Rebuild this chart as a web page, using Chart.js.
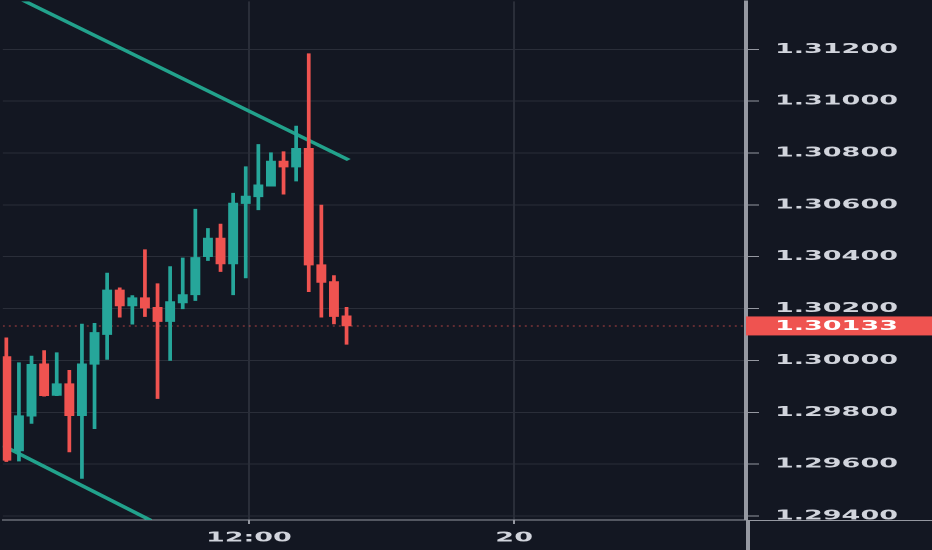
<!DOCTYPE html>
<html>
<head>
<meta charset="utf-8">
<script src="https://cdn.jsdelivr.net/npm/chart.js@4.4.1/dist/chart.umd.min.js"></script>
<style>
  html, body { margin: 0; padding: 0; background: #131722; overflow: hidden; }
  /* the reference is a horizontally stretched screenshot, so draw at half width and stretch */
  #wrap { width: 466px; height: 550px; transform: scaleX(2); transform-origin: 0 0; }
</style>
</head>
<body>
<div id="wrap"><canvas id="chart"></canvas></div>
<script>
// candles, one per bar index
const opens  = [1.30015, 1.29651, 1.29785, 1.29987, 1.29865, 1.29910, 1.29787, 1.29985, 1.30100, 1.30272,
                1.30210, 1.30242, 1.30205, 1.30150, 1.30222, 1.30253, 1.30400, 1.30472, 1.30372, 1.30605,
                1.30631, 1.30672, 1.30769, 1.30746, 1.30818, 1.30369, 1.30304, 1.30172]
const highs  = [1.30087, 1.29991, 1.30017, 1.30038, 1.30030, 1.29962, 1.30140, 1.30143, 1.30337, 1.30280,
                1.30250, 1.30427, 1.30296, 1.30362, 1.30395, 1.30583, 1.30509, 1.30526, 1.30645, 1.30747,
                1.30833, 1.30801, 1.30805, 1.30904, 1.31183, 1.30599, 1.30327, 1.30205]
const lows   = [1.29610, 1.29612, 1.29757, 1.29862, 1.29864, 1.29647, 1.29545, 1.29737, 1.30004, 1.30167,
                1.30140, 1.30169, 1.29853, 1.30000, 1.30199, 1.30231, 1.30385, 1.30343, 1.30253, 1.30318,
                1.30581, 1.30672, 1.30641, 1.30692, 1.30265, 1.30167, 1.30141, 1.30062]
const closes = [1.29615, 1.29787, 1.29985, 1.29864, 1.29910, 1.29787, 1.29987, 1.30108, 1.30272, 1.30210,
                1.30242, 1.30202, 1.30150, 1.30227, 1.30254, 1.30397, 1.30472, 1.30372, 1.30607, 1.30634,
                1.30677, 1.30769, 1.30746, 1.30818, 1.30368, 1.30301, 1.30169, 1.30133]

// trend channel, [bar index, price]
const upperTrend = [[-0.28, 1.31427], [27.18, 1.30773]]
const lowerTrend = [[-0.28, 1.29672], [11.42, 1.29384]]

const lastPrice = 1.30133

const yTicks = [1.294, 1.296, 1.298, 1.300, 1.302, 1.304, 1.306, 1.308, 1.310, 1.312]
const xTickPos = [19.25, 40.3]
const xTickLabels = ['12:00', '20']

const UP = '#26a69a'
const DOWN = '#ef5350'
const GRID = '#2a2e39'
const AXIS = '#9598a1'
const TEXT = '#d1d4dc'
const FONT = { family: '"DejaVu Sans", sans-serif', size: 13.5, weight: 'bold' }

const idx = opens.map((o, i) => i)
const colors = idx.map(i => closes[i] >= opens[i] ? UP : DOWN)

const extras = {
  id: 'extras',
  afterDraw(chart) {
    const { ctx, chartArea: a, scales: { y } } = chart
    ctx.save()
    // axis lines continue past the plot area like the terminal does
    ctx.strokeStyle = AXIS
    ctx.lineWidth = 1
    ctx.beginPath()
    ctx.moveTo(a.right, a.bottom + 0.5)
    ctx.lineTo(chart.width, a.bottom + 0.5)
    ctx.stroke()
    ctx.lineWidth = 2
    ctx.beginPath()
    ctx.moveTo(a.right + 1, a.bottom)
    ctx.lineTo(a.right + 1, chart.height)
    ctx.stroke()
    // last price tag
    const py = y.getPixelForValue(lastPrice)
    ctx.fillStyle = DOWN
    ctx.fillRect(a.right, py - 9.5, chart.width - a.right, 19)
    ctx.fillStyle = '#ffffff'
    ctx.font = 'bold ' + FONT.size + 'px ' + FONT.family
    ctx.textBaseline = 'middle'
    ctx.textAlign = 'left'
    ctx.fillText(lastPrice.toFixed(5), a.right + 14.5, py + 0.5)
    ctx.restore()
  }
}

new Chart(document.getElementById('chart'), {
  type: 'bar',
  data: {
    datasets: [
      {
        label: 'bodies',
        data: idx.map(i => ({ x: i, y: [opens[i], closes[i]] })),
        backgroundColor: colors,
        barThickness: 4.3,
        minBarLength: 1,
        grouped: false,
        order: 0
      },
      {
        label: 'wicks',
        data: idx.map(i => ({ x: i, y: [lows[i], highs[i]] })),
        backgroundColor: colors,
        barThickness: 1.2,
        grouped: false,
        order: 1
      },
      {
        type: 'line',
        label: 'upper',
        data: upperTrend.map(p => ({ x: p[0], y: p[1] })),
        borderColor: '#22a28c',
        borderWidth: 2.8,
        pointRadius: 0,
        clip: 0,
        order: 3
      },
      {
        type: 'line',
        label: 'lower',
        data: lowerTrend.map(p => ({ x: p[0], y: p[1] })),
        borderColor: '#22a28c',
        borderWidth: 2.8,
        pointRadius: 0,
        clip: 0,
        order: 3
      },
      {
        type: 'line',
        label: 'last',
        data: [{ x: -0.28, y: lastPrice }, { x: 58.7, y: lastPrice }],
        borderColor: 'rgba(239,83,80,0.7)',
        borderWidth: 1,
        borderDash: [1, 2],
        pointRadius: 0,
        clip: 0,
        order: 4
      }
    ]
  },
  options: {
    responsive: true,
    maintainAspectRatio: false,
    animation: false,
    devicePixelRatio: 2,
    layout: { padding: 0 },
    plugins: {
      legend: { display: false },
      tooltip: { enabled: false }
    },
    scales: {
      x: {
        type: 'linear',
        min: -0.28,
        max: 58.7,
        offset: false,
        afterBuildTicks: s => { s.ticks = xTickPos.map(v => ({ value: v })) },
        afterFit: s => { s.height = 30; s.paddingLeft = 0; s.paddingRight = 0 },
        grid: { offset: false, color: GRID, lineWidth: 1, tickLength: 4, tickColor: AXIS },
        border: { color: AXIS, width: 1 },
        ticks: {
          autoSkip: false,
          maxRotation: 0,
          padding: 6,
          color: TEXT,
          font: FONT,
          callback: (v, i) => xTickLabels[i]
        }
      },
      y: {
        position: 'right',
        min: 1.293846,
        max: 1.313846,
        afterBuildTicks: s => { s.ticks = yTicks.map(v => ({ value: v })) },
        afterFit: s => { s.width = 93; s.paddingTop = 0; s.paddingBottom = 0 },
        grid: { color: GRID, lineWidth: 1, tickLength: 6.5, tickColor: AXIS },
        border: { color: AXIS, width: 2 },
        ticks: {
          padding: 8,
          color: TEXT,
          font: FONT,
          callback: v => v.toFixed(5)
        }
      }
    }
  },
  plugins: [extras]
})
</script>
</body>
</html>
